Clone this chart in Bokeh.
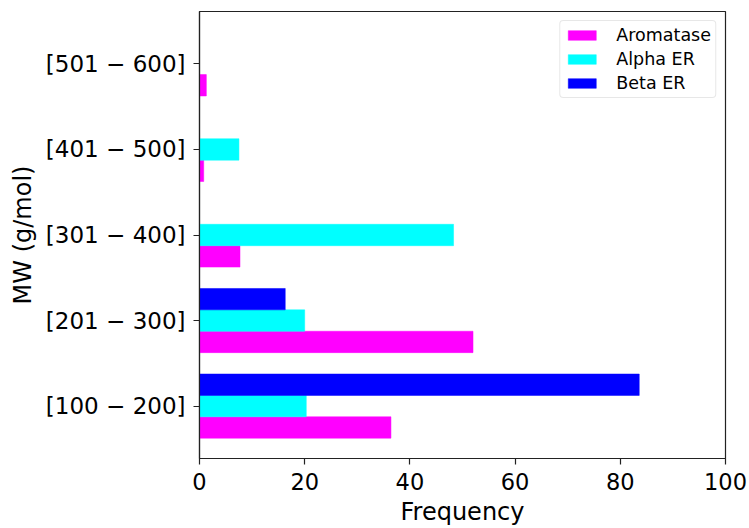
from bokeh.plotting import figure
from bokeh.models import ColumnDataSource, Range1d, FixedTicker, Legend, LegendItem
from bokeh.embed import file_html
from bokeh.resources import INLINE

categories = ["[100 \u2212 200]", "[201 \u2212 300]", "[301 \u2212 400]", "[401 \u2212 500]", "[501 \u2212 600]"]
aromatase = [36.4, 52.0, 7.7, 0.8, 1.3]
alpha_er = [20.3, 20.0, 48.3, 7.5, 0.0]
beta_er = [83.6, 16.3, 0.0, 0.0, 0.0]
series_names = ["Aromatase", "Alpha ER", "Beta ER"]
series_colors = ["#ff00ff", "#00ffff", "#0000ff"]
x_ticks = [0, 20, 40, 60, 80, 100]
offsets = [-0.25, 0.0, 0.25]
bar_height = 0.25

FONT = "DejaVu Sans"

p = figure(width=749, height=528, output_backend="svg", toolbar_location=None,
           x_range=Range1d(0, 100), y_range=Range1d(-0.6125, 4.6125))
p.min_border_left = 199
p.min_border_right = 24
p.min_border_top = 11
p.min_border_bottom = 69
p.grid.visible = False
p.outline_line_color = "#222222"
p.outline_line_width = 1.2
p.background_fill_color = "white"
p.border_fill_color = "white"

idx = list(range(len(categories)))
renderers = []
for vals, name, color, off in zip([aromatase, alpha_er, beta_er], series_names, series_colors, offsets):
    src = ColumnDataSource(dict(y=[i + off for i in idx], right=vals))
    r = p.hbar(y="y", right="right", left=0, height=bar_height, source=src,
               fill_color=color, line_color=color, line_width=0.5)
    renderers.append((name, r))

p.xaxis.ticker = FixedTicker(ticks=x_ticks)
p.yaxis.ticker = FixedTicker(ticks=idx)
p.yaxis.major_label_overrides = {i: c for i, c in zip(idx, categories)}

for ax in (p.xaxis, p.yaxis):
    ax.axis_line_color = "#222222"
    ax.axis_line_width = 1.2
    ax.major_tick_line_color = "#222222"
    ax.major_tick_line_width = 1.2
    ax.major_tick_out = 6
    ax.major_tick_in = 0
    ax.minor_tick_line_color = None
    ax.major_label_text_font = FONT
    ax.major_label_text_color = "black"
    ax.axis_label_text_font = FONT
    ax.axis_label_text_font_size = "24px"
    ax.axis_label_text_font_style = "normal"
    ax.axis_label_text_color = "black"

p.xaxis.major_label_text_font_size = "22.5px"
p.yaxis.major_label_text_font_size = "23px"
p.xaxis.axis_label = "Frequency"
p.yaxis.axis_label = "MW (g/mol)"
p.xaxis.major_label_standoff = 8
p.yaxis.major_label_standoff = 8
p.xaxis.axis_label_standoff = 5
p.yaxis.axis_label_standoff = 6

legend = Legend(items=[LegendItem(label=n, renderers=[r]) for n, r in renderers],
                location="top_right")
legend.label_text_font = FONT
legend.label_text_font_size = "17.5px"
legend.label_text_color = "black"
legend.glyph_width = 35
legend.glyph_height = 12
legend.label_standoff = 17
legend.spacing = 4
legend.padding = 4
legend.margin = 9
legend.border_line_color = "#d0d0d0"
legend.border_line_width = 1
legend.border_radius = 4
legend.background_fill_alpha = 0.8
p.add_layout(legend, "center")

open("out.html", "w").write(file_html(p, INLINE))
